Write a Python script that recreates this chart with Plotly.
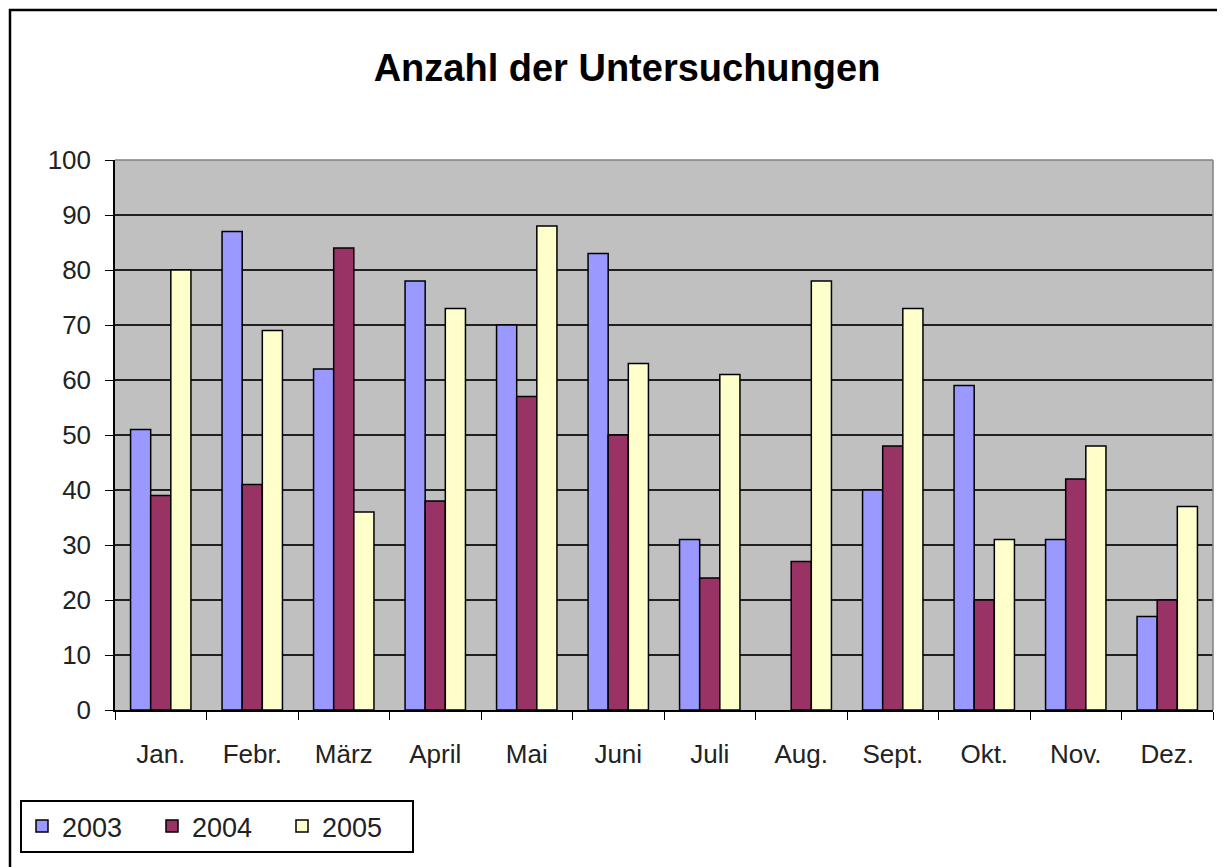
import plotly.graph_objects as go

months = ["Jan.", "Febr.", "März", "April", "Mai", "Juni", "Juli", "Aug.", "Sept.", "Okt.", "Nov.", "Dez."]
v2003 = [51, 87, 62, 78, 70, 83, 31, None, 40, 59, 31, 17]
v2004 = [39, 41, 84, 38, 57, 50, 24, 27, 48, 20, 42, 20]
v2005 = [80, 69, 36, 73, 88, 63, 61, 78, 73, 31, 48, 37]
series = [("2003", v2003, "#9999FF"), ("2004", v2004, "#993366"), ("2005", v2005, "#FFFFCC")]

fig = go.Figure()
for name, vals, col in series:
    fig.add_trace(go.Bar(x=months, y=vals, name=name, marker=dict(color=col, line=dict(color="black", width=1.5))))

OFF = 8  # page body offset
W, H = 1225 - OFF, 867 - OFF
L, T = 115 - OFF, 160 - OFF
R = W - (1213 - OFF)
B = H - (710 - OFF)
pw, ph = W - L - R, H - T - B

def px_x(p):
    return (p - OFF - L) / pw

def px_y(p):
    return (H - B - (p - OFF)) / ph

fig.update_layout(
    width=W, height=H,
    margin=dict(l=L, r=R, t=T, b=B),
    paper_bgcolor="white",
    plot_bgcolor="#C0C0C0",
    barmode="group",
    bargap=0.34,
    bargroupgap=0.0,
    font=dict(family="Arial, Liberation Sans", size=26, color="#222"),
    title=dict(text="<b>Anzahl der Untersuchungen</b>", x=(627 - OFF) / W, xanchor="center",
               y=1 - (68 - OFF) / H, yanchor="middle",
               font=dict(family="Arial, Liberation Sans", size=38, color="black")),
    showlegend=True,
    legend=dict(orientation="h", x=px_x(20), y=px_y(800), xanchor="left", yanchor="top",
                bordercolor="black", borderwidth=2, bgcolor="white",
                font=dict(size=27, color="#222"), itemwidth=30, traceorder="normal",
                entrywidth=85, entrywidthmode="pixels"),
    xaxis=dict(showgrid=False, showline=True, linecolor="black", linewidth=1.5, ticks="outside", ticklen=8,
               tickcolor="black", tickson="boundaries", ticklabelstandoff=20, mirror=False),
    yaxis=dict(range=[0, 100], dtick=10, showgrid=True, gridcolor="#202020", gridwidth=1.5, showline=True,
               linecolor="black", linewidth=1.5, ticks="outside", ticklen=8, tickcolor="black",
               ticklabelstandoff=9, zeroline=False),
    shapes=[
        dict(type="rect", xref="paper", yref="paper", x0=px_x(10), y0=px_y(880), x1=px_x(1240), y1=px_y(10),
             line=dict(color="black", width=2.5), layer="below"),
        dict(type="line", xref="paper", yref="paper", x0=0, y0=1, x1=1, y1=1, line=dict(color="#808080", width=1.5)),
        dict(type="line", xref="paper", yref="paper", x0=1, y0=0, x1=1, y1=1, line=dict(color="#808080", width=1.5)),
    ],
)

fig.write_html("out.html")
